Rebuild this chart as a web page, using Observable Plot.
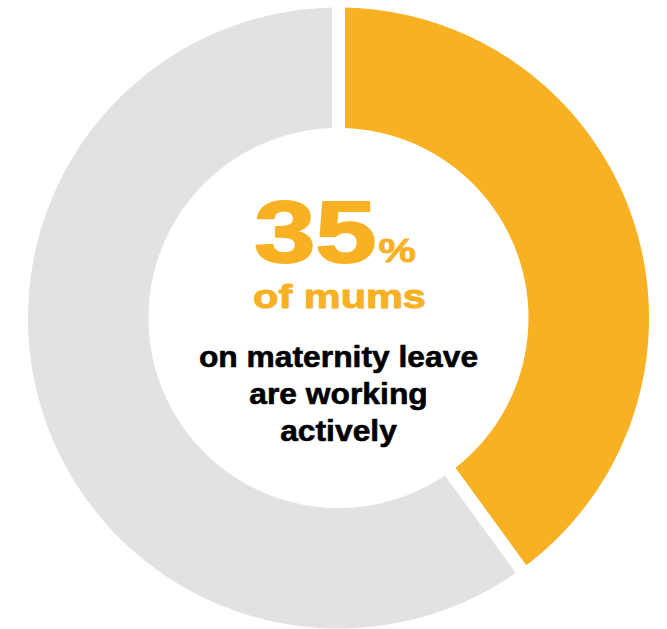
<!DOCTYPE html>
<html>
<head>
<meta charset="utf-8">
<script src="https://cdn.jsdelivr.net/npm/d3@7"></script>
<script src="https://cdn.jsdelivr.net/npm/@observablehq/plot@0.6"></script>
<style>
  html, body { margin: 0; padding: 0; background: #fff; }
</style>
</head>
<body>
<div id="chart"></div>
<script>
// ---- data ----
const sliceNames = ["working", "other"];
const sliceValues = [40, 60];           // share of the ring, as drawn
const sliceColors = ["#F8B122", "#E2E2E2"];
const headlineValue = "35";
const headlineUnit = "%";
const subtitleOrange = "of mums";
const bodyLines = ["on maternity leave", "are working", "actively"];

// ---- geometry (derived from values) ----
const W = 667, H = 629;
const outerR = 317, innerR = 183.5;   // polygon radii (white stroke trims 6.5px each side)
const total = d3.sum(sliceValues);
const points = [];
let acc = 0;
sliceValues.forEach((v, k) => {
  const a0 = acc / total * 2 * Math.PI;
  acc += v;
  const a1 = acc / total * 2 * Math.PI;
  const steps = Math.max(2, Math.ceil((a1 - a0) / (Math.PI / 360)));
  const ring = [];
  for (let i = 0; i <= steps; i++) {
    const a = a0 + (a1 - a0) * i / steps;
    ring.push({slice: sliceNames[k], x: outerR * Math.sin(a), y: outerR * Math.cos(a)});
  }
  for (let i = steps; i >= 0; i--) {
    const a = a0 + (a1 - a0) * i / steps;
    ring.push({slice: sliceNames[k], x: innerR * Math.sin(a), y: innerR * Math.cos(a)});
  }
  ring.push({...ring[0]});
  points.push(...ring);
});

const font = "'Liberation Sans', Arial, Helvetica, sans-serif";
const orange = sliceColors[0];
const center = [{x: 0, y: 0}];

const textAt = (txt, opts) => Plot.text(center, {
  x: "x", y: "y", text: () => txt,
  fontFamily: font, fontWeight: 700, lineAnchor: "bottom",
  ...opts
});

const plot = Plot.plot({
  width: W, height: H, margin: 0,
  x: {domain: [-338, 329], axis: null},
  y: {domain: [-311.5, 317.5], axis: null},
  color: {domain: sliceNames, range: sliceColors},
  style: {background: "white"},
  marks: [
    Plot.line(points, {x: "x", y: "y", z: "slice", fill: "slice", stroke: "white", strokeWidth: 13, curve: "linear"}),
    textAt(headlineValue, {fontSize: 88, fill: orange, stroke: orange, strokeWidth: 2, textAnchor: "end", dx: 38, dy: -56}),
    textAt(headlineUnit, {fontSize: 34, fill: orange, stroke: orange, strokeWidth: 0.8, textAnchor: "start", dx: 40, dy: -56}),
    textAt(subtitleOrange, {fontSize: 34, fill: orange, stroke: orange, strokeWidth: 1, textAnchor: "middle", dx: 1, dy: -10}),
    ...bodyLines.map((l, i) => textAt(l, {fontSize: 30, fill: "#000", stroke: "#000", strokeWidth: 0.6, textAnchor: "middle", dx: 0, dy: 49 + i * 37}))
  ]
});

// horizontal stretch of the lettering, as in the reference typeface
const stretch = {[headlineValue]: 1.25, [headlineUnit]: 1.24, [subtitleOrange]: 1.22};
bodyLines.forEach(l => stretch[l] = 1.06);
for (const t of plot.querySelectorAll("text")) {
  const s = stretch[t.textContent];
  if (!s) continue;
  const tr = t.getAttribute("transform");
  if (tr) t.setAttribute("transform", tr + ` scale(${s},1)`);
  else {
    const x = +t.getAttribute("x") || 0;
    t.setAttribute("transform", `translate(${x},0) scale(${s},1) translate(${-x},0)`);
  }
}
document.getElementById("chart").appendChild(plot);
</script>
</body>
</html>
